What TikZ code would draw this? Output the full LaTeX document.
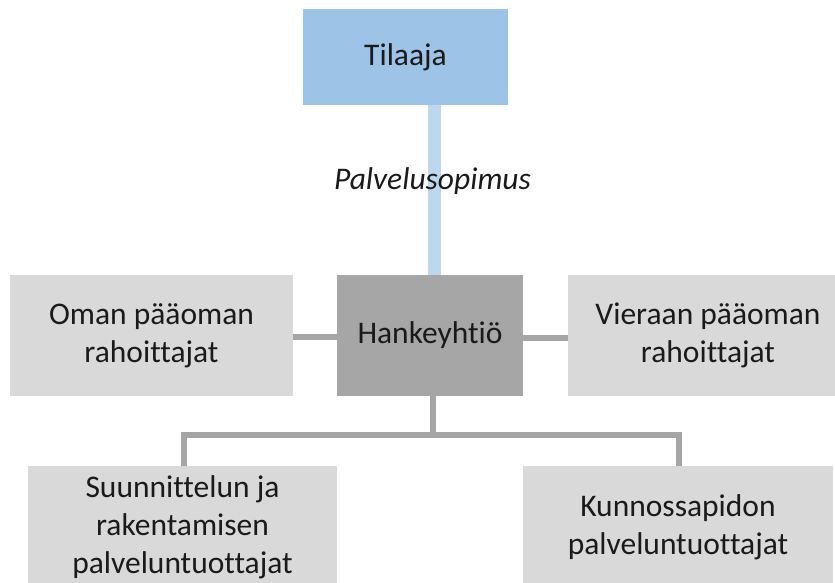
\documentclass[tikz,border=0pt]{standalone}
\usepackage{fontspec}
\setmainfont{Carlito}[Ligatures=NoCommon]
\definecolor{clientblue}{HTML}{9DC3E6}
\definecolor{contractblue}{HTML}{BDD7EE}
\definecolor{hubgrey}{HTML}{A6A6A6}
\definecolor{partygrey}{HTML}{D9D9D9}
\definecolor{linkgrey}{HTML}{A5A5A5}
\definecolor{inkdark}{HTML}{1A1A1A}
\begin{document}
\begin{tikzpicture}[x=1pt,y=-1pt,
  boxbase/.style={rectangle, draw=none, inner sep=0pt, align=center,
    text=inkdark, font=\fontsize{31.5}{38}\selectfont},
  clientbox/.style={boxbase, fill=clientblue},
  hubbox/.style={boxbase, fill=hubgrey},
  partybox/.style={boxbase, fill=partygrey},
  contractline/.style={draw=contractblue, line width=12.4pt},
  linkline/.style={draw=linkgrey, line width=6pt},
  contractlabel/.style={inner sep=0pt, text=inkdark,
    font=\fontsize{31.5}{38}\selectfont\itshape}]
\useasboundingbox (0,0) rectangle (835,583);
\clip (0,0) rectangle (835,583);

% boxes
\node[clientbox, minimum width=205pt, minimum height=96pt] (tilaaja) at (405.5,57) {Tilaaja};
\node[hubbox, minimum width=186pt, minimum height=121pt] (hanke) at (430,335.5) {Hankeyhtiö};
\node[partybox, minimum width=283pt, minimum height=121pt] (oman) at (151.5,335.5) {Oman pääoman\\rahoittajat};
\node[partybox, minimum width=280pt, minimum height=121pt] (vieraan) at (708,335.5) {Vieraan pääoman\\rahoittajat};
\node[partybox, minimum width=309pt, minimum height=122pt] (suunn) at (182.5,527) {Suunnittelun ja\\rakentamisen\\palveluntuottajat};
\node[partybox, minimum width=310pt, minimum height=122pt] (kunn) at (678,527) {Kunnossapidon\\palveluntuottajat};

% connector guide points
\coordinate (cx) at (434.5,0);
\coordinate (dx) at (432.7,0);
\coordinate (bus) at (0,434.5);
\coordinate (lx) at (183.5,0);
\coordinate (rx) at (679,0);

% contract between client and project company
\path[contractline] (tilaaja.south -| cx) -- (hanke.north -| cx);
\node[contractlabel] (sopimus) at (432.5,181) {Palvelusopimus};

% financiers
\path[linkline] (oman.east |- 0,337) -- (hanke.west |- 0,337);
\path[linkline] (hanke.east |- 0,338) -- (vieraan.west |- 0,338);

% service providers
\path[linkline, line join=miter] (hanke.south -| dx) -- (dx |- bus) -- (lx |- bus) -- (suunn.north -| lx);
\path[linkline, line join=miter] (dx |- bus) -- (rx |- bus) -- (kunn.north -| rx);
\end{tikzpicture}
\end{document}
